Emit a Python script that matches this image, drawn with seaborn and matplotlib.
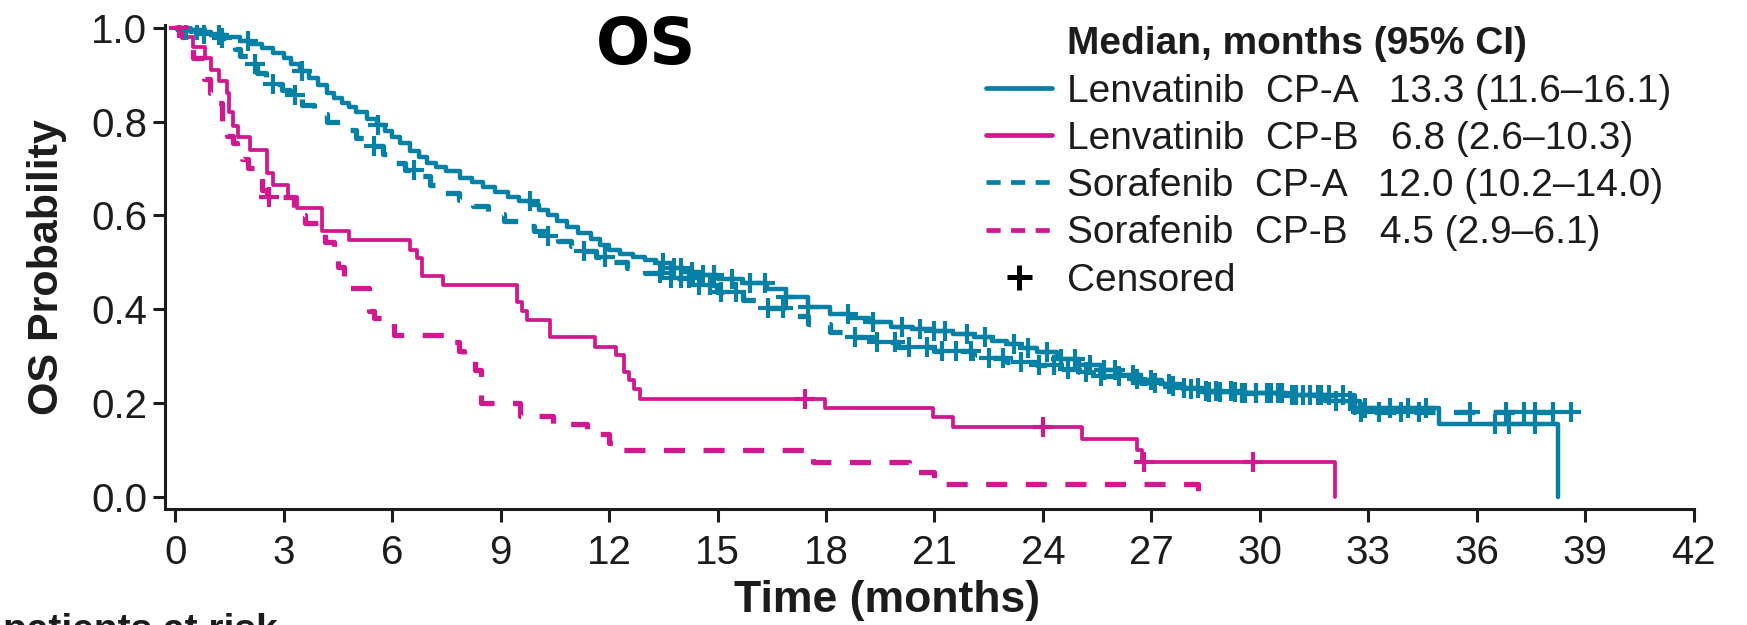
import numpy as np
import pandas as pd
import matplotlib
matplotlib.use("Agg")
import matplotlib.pyplot as plt
from matplotlib.lines import Line2D
import seaborn as sns

# ---- Kaplan-Meier data: event times (months) and survival after each event ----
len_a_t = [0.0, 0.3, 0.7, 1.0, 1.4, 1.8, 2.1, 2.4, 2.7, 3.0, 3.2, 3.46, 3.7, 3.95, 4.19,
           4.4, 4.6, 4.8, 5.0, 5.3, 5.58, 5.8, 6.0, 6.22, 6.5, 6.75, 6.96, 7.2, 7.5, 7.88,
           8.2, 8.5, 8.85, 9.2, 9.5, 9.82, 10.05, 10.3, 10.55, 10.83, 11.15, 11.5, 11.75,
           12.0, 12.3, 12.67, 13.0, 13.3, 13.7, 14.06, 14.5, 15.0, 15.7, 16.36, 16.9, 17.5,
           18.1, 18.67, 19.2, 19.81, 20.4, 21.0, 21.5, 22.1, 22.6, 23.0, 23.4, 23.83, 24.4,
           25.0, 25.6, 26.12, 26.7, 27.3, 27.9, 28.41, 29.5, 30.7, 31.8, 32.77, 34.95, 38.25]
len_a_s = [1.000, 0.995, 0.990, 0.985, 0.980, 0.972, 0.965, 0.957, 0.947, 0.935, 0.922, 0.907,
           0.893, 0.878, 0.861, 0.850, 0.840, 0.830, 0.820, 0.806, 0.793, 0.780, 0.767, 0.754,
           0.738, 0.724, 0.712, 0.703, 0.695, 0.679, 0.670, 0.660, 0.650, 0.640, 0.631, 0.622,
           0.611, 0.600, 0.588, 0.576, 0.563, 0.550, 0.537, 0.525, 0.518, 0.512, 0.505, 0.498,
           0.488, 0.480, 0.473, 0.465, 0.455, 0.442, 0.425, 0.405, 0.390, 0.380, 0.372, 0.362,
           0.357, 0.353, 0.347, 0.341, 0.333, 0.325, 0.317, 0.309, 0.294, 0.280, 0.270, 0.259,
           0.249, 0.240, 0.232, 0.224, 0.220, 0.216, 0.205, 0.188, 0.156, 0.000]
len_a_cens = [0.3, 0.6, 1.2, 2.0, 3.5, 5.6, 9.8, 13.5, 13.8, 14.0, 14.3, 14.6, 14.9, 15.4, 15.9,
              16.3, 16.9, 17.5, 18.6, 19.3, 20.1, 20.6, 21.0, 21.3, 21.9, 22.4, 23.2, 23.6, 24.1,
              24.5, 24.9, 25.3, 25.7, 26.0, 26.5, 27.0, 27.5, 27.9, 28.3, 28.6, 28.9, 29.3, 29.6,
              29.9, 30.3, 30.6, 31.0, 31.4, 31.7, 32.1, 32.5, 32.9, 33.6, 34.1, 34.6, 36.5, 36.9,
              37.6]

len_b_t = [0.0, 0.3, 0.5, 0.83, 1.0, 1.2, 1.43, 1.5, 1.6, 1.75, 2.07, 2.53, 2.7, 3.13, 3.36,
           4.06, 4.82, 6.5, 6.7, 6.83, 7.42, 9.45, 9.6, 9.73, 10.37, 11.6, 12.2, 12.4, 12.55,
           12.7, 12.86, 17.98, 20.96, 21.5, 25.07, 26.6, 26.75, 32.08]
len_b_s = [1.000, 0.980, 0.960, 0.935, 0.910, 0.886, 0.860, 0.820, 0.790, 0.768, 0.740, 0.690,
           0.665, 0.640, 0.615, 0.566, 0.548, 0.526, 0.509, 0.470, 0.452, 0.416, 0.395, 0.377,
           0.341, 0.320, 0.302, 0.266, 0.248, 0.229, 0.209, 0.190, 0.169, 0.148, 0.122, 0.099,
           0.074, 0.000]
len_b_cens = [0.1, 17.42, 24.0, 26.8, 29.82]

sor_a_t = [0.0, 0.4, 0.8, 1.2, 1.5, 1.65, 1.8, 2.0, 2.26, 2.5, 2.7, 2.95, 3.18, 3.5, 3.83, 4.2,
           4.56, 5.0, 5.48, 5.75, 6.04, 6.35, 6.68, 7.05, 7.42, 7.85, 8.25, 8.65, 9.08, 9.5,
           9.91, 10.25, 10.6, 10.95, 11.29, 11.65, 12.0, 12.49, 13.0, 13.6, 14.3, 14.98, 15.7,
           16.36, 16.9, 17.5, 18.1, 18.67, 19.3, 20.0, 21.0, 22.1, 23.0, 23.83, 24.4, 25.0,
           25.6, 26.12, 26.7, 27.3, 27.9, 28.41, 29.5, 30.7, 32.6]
sor_a_s = [1.000, 0.993, 0.986, 0.978, 0.968, 0.955, 0.940, 0.922, 0.904, 0.892, 0.880, 0.868,
           0.857, 0.836, 0.815, 0.799, 0.783, 0.765, 0.747, 0.730, 0.712, 0.697, 0.683, 0.665,
           0.647, 0.633, 0.619, 0.603, 0.587, 0.577, 0.566, 0.556, 0.545, 0.534, 0.523, 0.511,
           0.500, 0.487, 0.477, 0.466, 0.452, 0.437, 0.420, 0.402, 0.385, 0.368, 0.352, 0.340,
           0.329, 0.320, 0.310, 0.295, 0.288, 0.280, 0.272, 0.265, 0.257, 0.250, 0.242, 0.235,
           0.230, 0.225, 0.220, 0.216, 0.180]
sor_a_cens = [0.8, 1.3, 2.2, 2.7, 3.3, 5.5, 6.6, 10.3, 11.3, 11.9, 13.4, 13.7, 14.0, 14.2, 14.5,
              14.8, 15.1, 15.5, 16.4, 16.8, 18.8, 19.4, 19.9, 20.3, 20.8, 21.2, 21.6, 22.0, 22.5,
              22.9, 23.4, 23.9, 24.3, 24.7, 25.2, 25.6, 26.1, 26.6, 27.1, 27.6, 28.1, 28.5, 28.8,
              29.2, 29.5, 29.9, 30.2, 30.5, 30.9, 31.2, 31.6, 31.9, 32.3, 32.8, 33.3, 33.9, 34.4,
              35.8, 36.8, 37.3, 37.6, 38.1, 38.6]

sor_b_t = [0.0, 0.2, 0.28, 0.5, 0.8, 0.97, 1.0, 1.29, 1.43, 1.6, 1.71, 1.85, 2.0, 2.25, 2.4,
           2.53, 3.28, 3.55, 3.6, 4.06, 4.15, 4.38, 4.5, 4.66, 4.72, 5.35, 5.5, 6.05, 7.7, 7.85,
           8.0, 8.3, 8.45, 9.54, 10.45, 11.4, 12.0, 12.2, 17.65, 20.3, 21.0, 28.3]
sor_b_s = [1.000, 0.980, 0.960, 0.935, 0.890, 0.860, 0.840, 0.790, 0.770, 0.755, 0.740, 0.720,
           0.700, 0.680, 0.655, 0.640, 0.612, 0.600, 0.583, 0.566, 0.544, 0.516, 0.490, 0.466,
           0.444, 0.395, 0.380, 0.345, 0.330, 0.310, 0.290, 0.270, 0.199, 0.172, 0.155, 0.134,
           0.115, 0.100, 0.074, 0.052, 0.026, 0.000]
sor_b_cens = [2.6]

arm_names = ["Lenvatinib  CP-A", "Lenvatinib  CP-B", "Sorafenib  CP-A", "Sorafenib  CP-B"]
median_text = ["13.3 (11.6\u201316.1)", "6.8 (2.6\u201310.3)", "12.0 (10.2\u201314.0)", "4.5 (2.9\u20136.1)"]

TEAL = "#0780A6"
MAGENTA = "#D0188F"
INK = "#1e1b1c"

sns.set_theme(style="ticks")
plt.rcParams["font.family"] = ["Liberation Sans", "DejaVu Sans"]

fig = plt.figure(figsize=(17.47, 6.25), dpi=100)
ax = fig.add_axes([0.0945, 0.1851, 0.875, 0.775])

DASH = (0, (4.0, 3.5))
arms = [
    (len_a_t, len_a_s, len_a_cens, TEAL, "-", 3.2),
    (len_b_t, len_b_s, len_b_cens, MAGENTA, "-", 2.7),
    (sor_a_t, sor_a_s, sor_a_cens, TEAL, DASH, 3.8),
    (sor_b_t, sor_b_s, sor_b_cens, MAGENTA, DASH, 3.8),
]

for t, s, cens, color, ls, lw in arms:
    t = np.asarray(t, float)
    s = np.asarray(s, float)
    cens = np.asarray(cens, float)
    # extend the last step to the final censored time if follow-up continues
    if cens.size and cens.max() > t.max():
        t_draw = np.append(t, cens.max())
        s_draw = np.append(s, s[-1])
    else:
        t_draw, s_draw = t, s
    curve = pd.DataFrame({"t": t_draw, "s": s_draw})
    sns.lineplot(data=curve, x="t", y="s", ax=ax, color=color, lw=lw, ls=ls,
                 drawstyle="steps-post", sort=False, estimator=None, legend=False)
    idx = np.searchsorted(t, cens, side="right") - 1
    marks = pd.DataFrame({"t": cens, "s": s[idx]})
    sns.scatterplot(data=marks, x="t", y="s", ax=ax, marker="+", s=210,
                    color=color, linewidth=3.0, legend=False, zorder=3)

ax.set_xlim(-0.28, 42)
ax.set_ylim(-0.027, 1.006)
ax.set_xticks(np.arange(0, 43, 3))
ax.set_yticks([0.0, 0.2, 0.4, 0.6, 0.8, 1.0])
ax.set_yticklabels(["0.0", "0.2", "0.4", "0.6", "0.8", "1.0"])
sns.despine(ax=ax)
for sp in ("left", "bottom"):
    ax.spines[sp].set_linewidth(2.2)
    ax.spines[sp].set_color(INK)
ax.tick_params(axis="both", length=9, width=2.2, color=INK, labelsize=29,
               labelcolor=INK)
ax.tick_params(axis="y", pad=4)
ax.tick_params(axis="x", pad=9)
ax.set_xlabel("Time (months)", fontsize=32, fontweight="bold", color=INK)
ax.xaxis.set_label_coords(0.472, -0.146)
ax.set_ylabel("OS Probability", fontsize=31, fontweight="bold", color=INK)
ax.yaxis.label.set_va("center")
ax.yaxis.set_label_coords(-0.0775, 0.5)
ax.grid(False)

# legend: header row, four arms, censor mark
handles = [Line2D([], [], color="none")]
handles += [
    Line2D([], [], color=TEAL, lw=3.4),
    Line2D([], [], color=MAGENTA, lw=3.4),
    Line2D([], [], color=TEAL, lw=3.4, ls=(0, (3.0, 2.2))),
    Line2D([], [], color=MAGENTA, lw=3.4, ls=(0, (3.0, 2.2))),
    Line2D([], [], ls="none", marker="+", color="black", ms=18, mew=3.6),
]
labels = ["Median, months (95% CI)"]
labels += [f"{n}   {m}" for n, m in zip(arm_names, median_text)]
labels += ["Censored"]
leg = fig.legend(handles, labels, loc="upper left", bbox_to_anchor=(0.5644, 0.958),
                 frameon=False, fontsize=28, handlelength=1.7, handletextpad=0.37,
                 labelspacing=0.29, borderpad=0, borderaxespad=0)
for txt in leg.get_texts():
    txt.set_color(INK)
leg.get_texts()[0].set_fontweight("bold")

fig.text(0.3698, 0.927, "OS", fontsize=46, fontweight="bold", family="DejaVu Sans",
         ha="center", va="center", color="black")
fig.text(0.002, -0.026, "patients at risk", fontsize=28, fontweight="bold",
         ha="left", va="baseline", color=INK)

fig.savefig("out.png", dpi=100)
